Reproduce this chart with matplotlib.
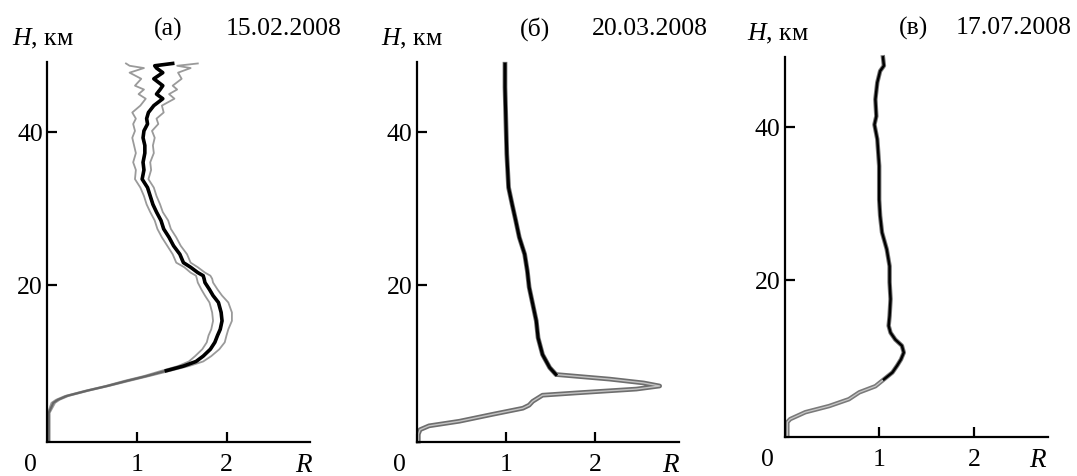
import matplotlib
matplotlib.use("Agg")
import matplotlib.pyplot as plt
import numpy as np

plt.rcParams['font.family'] = ['Liberation Serif', 'DejaVu Serif']
plt.rcParams['mathtext.fontset'] = 'custom'
plt.rcParams['mathtext.it'] = 'Liberation Serif:italic'
plt.rcParams['mathtext.rm'] = 'Liberation Serif'
FS = 18.5

# panel (а) 15.02.2008 : height, mean R and the two envelope curves
h_a = [-0.4, 3.3, 4.6, 5.0, 5.5, 6.2, 6.8, 7.5, 8.1, 8.8, 9.4, 10.0, 10.7, 11.6,
       12.5, 13.4, 14.2, 15.3, 16.4, 17.7, 18.6, 19.4, 20.3, 20.8, 21.2, 21.6,
       22.3, 22.9, 24.0, 25.1, 26.2, 27.3, 28.4, 29.5, 30.5, 31.6, 32.7, 33.8,
       35.0, 36.0, 37.2, 38.2, 39.2, 40.1, 41.0, 41.7, 42.5, 43.4, 44.3, 44.9,
       45.5, 46.0, 46.9, 47.7, 48.3, 48.6, 48.9]
r_a = [0.02, 0.02, 0.07, 0.12, 0.22, 0.45, 0.67, 0.90, 1.11, 1.33, 1.52, 1.66, 1.74,
       1.82, 1.87, 1.90, 1.93, 1.95, 1.94, 1.91, 1.85, 1.81, 1.76, 1.75, 1.74,
       1.68, 1.60, 1.52, 1.48, 1.41, 1.36, 1.30, 1.27, 1.22, 1.18, 1.15, 1.12,
       1.06, 1.08, 1.07, 1.09, 1.09, 1.07, 1.08, 1.12, 1.11, 1.13, 1.19, 1.29,
       1.22, 1.26, 1.29, 1.19, 1.29, 1.22, 1.20, 1.40]
lo_a = [0.01, 0.01, 0.05, 0.10, 0.20, 0.43, 0.65, 0.87, 1.08, 1.28, 1.46, 1.58, 1.65,
        1.73, 1.78, 1.80, 1.83, 1.85, 1.84, 1.81, 1.76, 1.72, 1.68, 1.67, 1.66,
        1.60, 1.53, 1.44, 1.40, 1.34, 1.28, 1.23, 1.20, 1.15, 1.11, 1.08, 1.04,
        0.98, 0.99, 0.96, 0.99, 0.97, 0.95, 0.98, 0.96, 0.99, 0.95, 1.04, 1.10,
        1.02, 1.08, 0.98, 1.05, 0.92, 1.08, 0.92, 0.88]
hi_a = [0.03, 0.03, 0.09, 0.14, 0.24, 0.47, 0.69, 0.93, 1.14, 1.38, 1.58, 1.74, 1.83,
        1.92, 1.98, 2.00, 2.02, 2.06, 2.06, 2.02, 1.95, 1.90, 1.85, 1.84, 1.82,
        1.76, 1.68, 1.60, 1.56, 1.49, 1.44, 1.38, 1.35, 1.29, 1.26, 1.22, 1.19,
        1.13, 1.16, 1.15, 1.19, 1.18, 1.20, 1.17, 1.24, 1.22, 1.30, 1.28, 1.42,
        1.36, 1.45, 1.40, 1.50, 1.46, 1.60, 1.45, 1.68]

# panel (б) 20.03.2008
h_b = [-0.4, 0.5, 1.1, 1.6, 2.2, 3.1, 3.9, 4.3, 4.8, 5.6, 5.9, 6.4, 6.8, 7.2, 7.7,
       8.3, 9.2, 10.9, 13.1, 15.3, 17.5, 19.7, 21.8, 24.0, 26.2, 28.4, 30.5,
       32.7, 37.1, 41.4, 45.8, 48.8]
r_b = [0.02, 0.02, 0.04, 0.14, 0.48, 0.85, 1.19, 1.26, 1.30, 1.41, 1.79, 2.46, 2.72,
       2.54, 2.16, 1.56, 1.49, 1.41, 1.36, 1.34, 1.30, 1.26, 1.24, 1.21, 1.15,
       1.11, 1.07, 1.03, 1.01, 1.00, 0.99, 0.99]

# panel (в) 17.07.2008
h_c = [-0.4, 1.4, 1.8, 2.7, 3.5, 4.4, 5.3, 6.1, 7.0, 7.9, 8.8, 9.6, 10.5, 11.4,
       12.2, 13.1, 14.0, 15.3, 17.5, 19.7, 21.8, 24.0, 26.2, 28.4, 30.5, 34.9,
       38.4, 40.3, 41.4, 43.6, 45.8, 47.3, 48.0, 49.1]
r_c = [0.03, 0.03, 0.06, 0.22, 0.47, 0.68, 0.79, 0.96, 1.05, 1.14, 1.19, 1.23, 1.26,
       1.24, 1.17, 1.12, 1.10, 1.11, 1.12, 1.11, 1.11, 1.08, 1.03, 1.01, 1.00,
       1.00, 0.98, 0.95, 0.97, 0.96, 0.98, 1.01, 1.05, 1.04]

DATES = {'(а)': '15.02.2008', '(б)': '20.03.2008', '(в)': '17.07.2008'}

W, Hpx = 1077, 477
fig = plt.figure(figsize=(W / 100, Hpx / 100), dpi=100)


def px(x0, y0, x1, y1):
    return [x0 / W, 1 - y1 / Hpx, (x1 - x0) / W, (y1 - y0) / Hpx]


def style(ax, xmax, ylim, zero_x, r_x):
    ax.set_xlim(0, xmax)
    ax.set_ylim(*ylim)
    for s in ['top', 'right']:
        ax.spines[s].set_visible(False)
    for s in ['left', 'bottom']:
        ax.spines[s].set_linewidth(1.6)
    ax.set_xticks([1, 2])
    ax.set_xticklabels(['1', '2'])
    ax.set_yticks([20, 40])
    ax.tick_params(direction='in', length=7, width=1.6, labelsize=FS)
    ax.tick_params(axis='x', pad=8)
    ax.tick_params(axis='y', pad=3)
    tr = ax.get_xaxis_transform()
    ax.text(zero_x, -0.06, '0', transform=tr, ha='center', va='center',
            fontsize=FS, clip_on=False)
    ax.text(r_x, -0.06, '$R$', transform=tr, ha='center', va='center',
            fontsize=FS + 1, clip_on=False)


def labels(hx, hy, lab_x, date_x, ty, lab):
    fig.text(hx / W, 1 - hy / Hpx, '$H$, км', fontsize=FS, ha='left', va='center')
    fig.text(lab_x / W, 1 - ty / Hpx, lab, fontsize=FS, ha='center', va='center')
    fig.text(date_x / W, 1 - ty / Hpx, DATES[lab], fontsize=FS,
             ha='left', va='center')


# (а)
ax1 = fig.add_axes(px(47, 62.7, 310, 442.7))
h = np.array(h_a)
r = np.array(r_a)
ax1.plot(lo_a, h_a, color='#9a9a9a', lw=1.3, clip_on=False)
ax1.plot(hi_a, h_a, color='#9a9a9a', lw=1.3, clip_on=False)
ax1.plot(r_a, h_a, color='#666666', lw=1.6, clip_on=False)
up = h >= 8.8
ax1.plot(r[up], h[up], color='black', lw=2.6, clip_on=False)
style(ax1, 2.93, (-0.47, 49.13), -0.19, 2.87)
labels(12, 39, 168, 226, 29, '(а)')

# (б)
ax2 = fig.add_axes(px(416.5, 62.7, 679.3, 442.7))
h = np.array(h_b)
r = np.array(r_b)
ax2.plot(r_b, h_b, color='#6e6e6e', lw=3.4, clip_on=False)
ax2.plot(r_b, h_b, color='#c4c4c4', lw=1.0, clip_on=False)
up = h >= 8.3
ax2.plot(r[up], h[up], color='black', lw=2.2, clip_on=False)
style(ax2, 2.94, (-0.47, 49.13), -0.195, 2.85)
labels(381, 39, 535, 592, 29, '(б)')

# (в)
ax3 = fig.add_axes(px(784.5, 58.3, 1047.7, 437.7))
h = np.array(h_c)
r = np.array(r_c)
ax3.plot(r_c, h_c, color='#7a7a7a', lw=3.2, clip_on=False)
ax3.plot(r_c, h_c, color='#c8c8c8', lw=0.9, clip_on=False)
up = h >= 7.0
ax3.plot(r[up], h[up], color='black', lw=1.8, clip_on=False)
style(ax3, 2.78, (-0.5, 49.1), -0.18, 2.68)
labels(747, 34, 914, 956, 28, '(в)')

fig.savefig('out.png', dpi=100)
